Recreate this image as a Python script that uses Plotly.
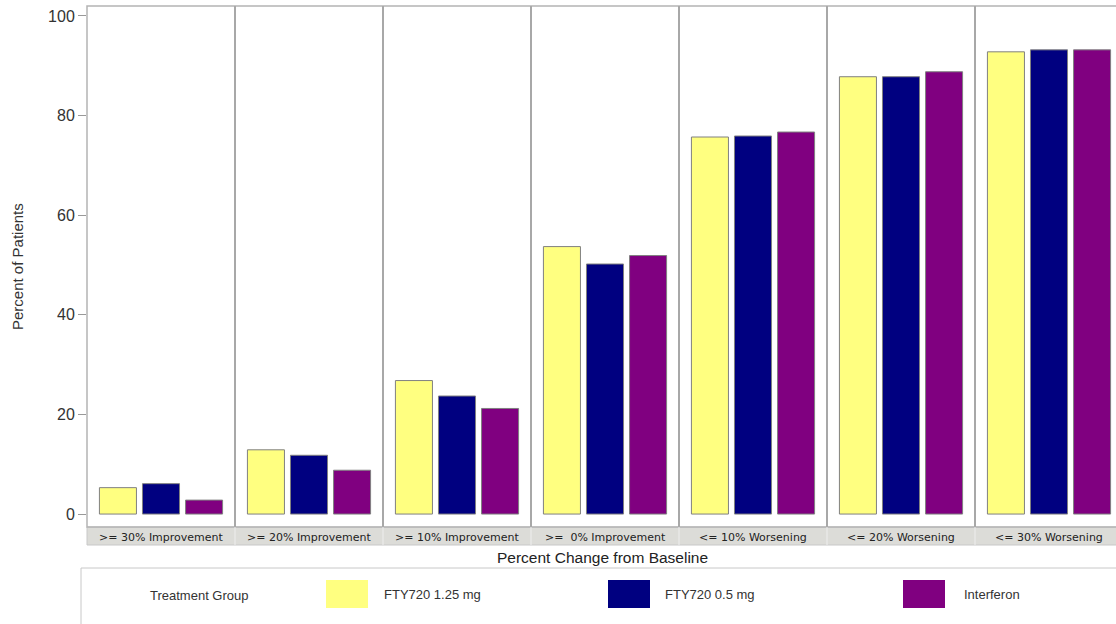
import plotly.graph_objects as go

categories = [">= 30% Improvement", ">= 20% Improvement", ">= 10% Improvement",
              ">=  0% Improvement", "<= 10% Worsening", "<= 20% Worsening", "<= 30% Worsening"]
groups = ["FTY720 1.25 mg", "FTY720 0.5 mg", "Interferon"]
fty125 = [5.3, 12.9, 26.8, 53.7, 75.7, 87.8, 92.8]
fty05 = [6.1, 11.8, 23.7, 50.2, 75.9, 87.8, 93.2]
interferon = [2.8, 8.8, 21.2, 51.9, 76.7, 88.8, 93.2]
colors = ["#FFFF80", "#000080", "#800080"]
yticks = [0, 20, 40, 60, 80, 100]

W, H = 1116, 624
L, R, T, B = 87, 0, 6, 97
pw, ph = W - L - R, H - T - B
panel_px = 148.0
x_hi = -0.5 + pw / panel_px  # plot runs past the right edge of the image

def px(x):
    return (x - L) / pw

def py(y):
    return (H - B - y) / ph

xs = list(range(len(categories)))
fig = go.Figure()
for name, vals, col in zip(groups, [fty125, fty05, interferon], colors):
    fig.add_bar(x=xs, y=vals, name=name, marker=dict(color=col, line=dict(color="#808080", width=1)))

shapes = []
annotations = []
# category strip
shapes.append(dict(type="rect", xref="paper", yref="paper", x0=0, x1=1.02, y0=py(545), y1=0,
                   fillcolor="#dcdcd8", line=dict(color="#c8c8c8", width=1), layer="below"))
# frame (right side off-image)
shapes.append(dict(type="rect", xref="paper", yref="paper", x0=0, x1=1.05, y0=0, y1=1,
                   line=dict(color="#b4b4b4", width=1.5)))
# panel dividers
for i in range(len(categories) - 1):
    shapes.append(dict(type="line", xref="x", yref="paper", x0=i + 0.5, x1=i + 0.5, y0=0, y1=1,
                       line=dict(color="#a8a8a8", width=2)))
    shapes.append(dict(type="line", xref="x", yref="paper", x0=i + 0.5, x1=i + 0.5,
                       y0=py(545), y1=0, line=dict(color="#eeeeee", width=1)))
for i, c in enumerate(categories):
    annotations.append(dict(x=i, y=py(537), xref="x", yref="paper", text=c, showarrow=False,
                            font=dict(family="DejaVu Sans", size=11, color="#222"),
                            xanchor="center", yanchor="middle"))
# axis titles
annotations.append(dict(x=px(602), y=py(557), xref="paper", yref="paper", text="Percent Change from Baseline",
                        showarrow=False, font=dict(family="Liberation Sans, Arial", size=15.5, color="#222"),
                        xanchor="center", yanchor="middle"))
annotations.append(dict(x=px(17), y=py(267), xref="paper", yref="paper", text="Percent of Patients",
                        showarrow=False, textangle=-90,
                        font=dict(family="Liberation Sans, Arial", size=15, color="#333"),
                        xanchor="center", yanchor="middle"))
# legend box
shapes.append(dict(type="rect", xref="paper", yref="paper", x0=px(81), x1=px(1125), y0=py(632), y1=py(568),
                   line=dict(color="#c8c8c8", width=1), fillcolor="white"))
annotations.append(dict(x=px(199), y=py(595), xref="paper", yref="paper", text="Treatment Group",
                        showarrow=False, font=dict(family="Liberation Sans, Arial", size=13, color="#333"),
                        xanchor="center", yanchor="middle"))
sw_x = [326, 608, 903]
tx_x = [382, 663, 962]
for name, col, sx, tx in zip(groups, colors, sw_x, tx_x):
    shapes.append(dict(type="rect", xref="paper", yref="paper", x0=px(sx), x1=px(sx + 42),
                       y0=py(608), y1=py(580), fillcolor=col, line=dict(color=col, width=0)))
    annotations.append(dict(x=px(tx), y=py(594), xref="paper", yref="paper", text=name,
                            showarrow=False, font=dict(family="Liberation Sans, Arial", size=13, color="#333"),
                            xanchor="left", yanchor="middle"))

fig.update_layout(
    width=W, height=H, margin=dict(l=L, r=R, t=T, b=B),
    paper_bgcolor="white", plot_bgcolor="white",
    barmode="group", bargap=0.127, bargroupgap=0.14,
    showlegend=False,
    shapes=shapes, annotations=annotations,
    font=dict(family="Liberation Sans, Arial", color="#333"),
)
fig.update_xaxes(range=[-0.5, x_hi], showticklabels=False, showgrid=False,
                 zeroline=False, showline=False, ticks="")
fig.update_yaxes(range=[-2.6, 102], tickvals=yticks, showgrid=False, zeroline=False,
                 ticks="outside", ticklen=8, tickcolor="#999", showline=False,
                 tickfont=dict(size=16, color="#333"))

fig.write_html("out.html")
